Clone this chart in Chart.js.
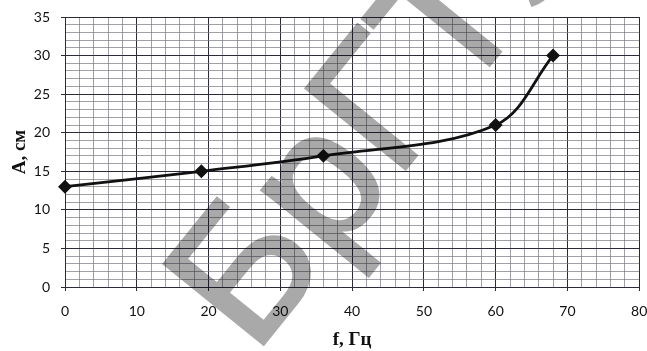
<!DOCTYPE html>
<html><head><meta charset="utf-8">
<script src="https://cdn.jsdelivr.net/npm/chart.js@4/dist/chart.umd.min.js"></script>
<style>html,body{margin:0;padding:0;background:#fff}#wrap{width:647px;height:351px;position:relative}</style>
</head><body><div id="wrap"><canvas id="c"></canvas></div>
<script>
const frequencies = [0, 19, 36, 60, 68];
const amplitudes = [13, 15, 17, 21, 30];
const xTickLabels = [0, 10, 20, 30, 40, 50, 60, 70, 80];
const yTickLabels = [0, 5, 10, 15, 20, 25, 30, 35];
const xTitle = 'f, Гц';
const yTitle = 'A, см';
const watermarkText = 'БрГТУ';

const MAJOR = '#2a2a3a', MINOR = 'rgba(120,120,130,0.7)';
const tickFont = {family: 'Lato', size: 14};
const titleFont = {family: '"Liberation Serif"', size: 19, weight: 'bold'};

const watermark = {
  id: 'watermark',
  afterDraw(chart) {
    const ctx = chart.ctx;
    const off = document.createElement('canvas');
    off.width = chart.width; off.height = chart.height;
    const o = off.getContext('2d');
    o.fillStyle = '#a9a9a9';
    o.strokeStyle = '#a9a9a9';
    o.lineWidth = 3;
    o.lineJoin = 'miter';
    o.font = '186px "Liberation Sans"';
    o.textAlign = 'left';
    o.textBaseline = 'alphabetic';
    o.translate(254, 356);
    o.rotate(-51 * Math.PI / 180);
    o.fillText(watermarkText, 0, 0);
    o.strokeText(watermarkText, 0, 0);
    ctx.save();
    ctx.setTransform(1, 0, 0, 1, 0, 0);
    ctx.globalCompositeOperation = 'multiply';
    ctx.drawImage(off, 0, 0);
    ctx.restore();
  }
};

new Chart(document.getElementById('c'), {
  type: 'line',
  data: {
    datasets: [{
      data: frequencies.map((f, i) => ({x: f, y: amplitudes[i]})),
      borderColor: '#111',
      backgroundColor: '#111',
      borderWidth: 2.8,
      tension: 0.35,
      pointStyle: 'rectRot',
      pointRadius: 5,
      pointHoverRadius: 5,
      clip: 10
    }]
  },
  options: {
    responsive: true,
    maintainAspectRatio: false,
    animation: false,
    events: [],
    layout: {padding: {top: 17, right: 7, bottom: 0, left: 0}},
    plugins: {legend: {display: false}, tooltip: {enabled: false}},
    scales: {
      x: {
        type: 'linear', min: 0, max: 80,
        ticks: {
          stepSize: 2, autoSkip: false, maxRotation: 0, padding: 12,
          color: '#111', font: tickFont,
          callback: v => xTickLabels.includes(v) ? String(v) : ''
        },
        grid: {
          color: c => (c.tick && c.tick.value % 10 === 0) ? MAJOR : MINOR,
          lineWidth: 1,
          tickLength: 4,
          tickColor: c => (c.tick && c.tick.value % 10 === 0) ? MAJOR : 'rgba(0,0,0,0)'
        },
        border: {color: MAJOR, width: 1},
        title: {display: true, text: xTitle, font: titleFont, color: '#111', padding: {top: 0, bottom: 0}},
        afterFit: s => { s.height = 64; s.paddingLeft = 0; s.paddingRight = 0; }
      },
      y: {
        type: 'linear', min: 0, max: 35,
        ticks: {
          stepSize: 1, autoSkip: false, padding: 11,
          color: '#111', font: tickFont,
          callback: v => yTickLabels.includes(v) ? String(v) : ''
        },
        grid: {
          color: c => (c.tick && c.tick.value % 5 === 0) ? MAJOR : MINOR,
          lineWidth: 1,
          tickLength: 4,
          tickColor: c => (c.tick && c.tick.value % 5 === 0) ? MAJOR : 'rgba(0,0,0,0)'
        },
        border: {color: MAJOR, width: 1},
        title: {display: true, text: yTitle, font: titleFont, color: '#111', padding: {top: 9, bottom: 0}},
        afterFit: s => { s.width = 65; s.paddingTop = 0; s.paddingBottom = 0; }
      }
    }
  },
  plugins: [watermark]
});
</script>
</body></html>
